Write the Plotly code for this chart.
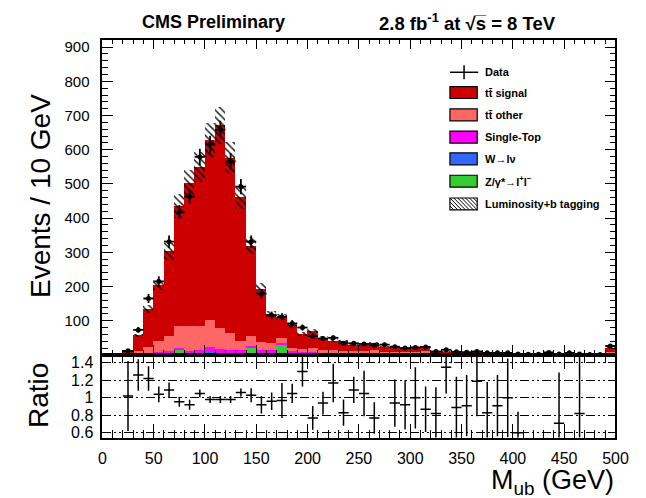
import numpy as np
import plotly.graph_objects as go

W, H = 646, 498

# ---------------- data (10 GeV bins, 0-500 GeV) ----------------
bin_edges = list(range(0, 510, 10))

tt_signal = [0, 0.3, 7, 46, 111, 164, 248, 353, 418, 466, 527, 592, 513, 421, 265, 157, 85, 62, 66, 43,
             51, 35.5, 28.5, 27.5, 19, 18.5, 21.5, 15.5, 16, 13.2, 13.3, 12.9, 6.4, 5.7, 4.7, 4.5, 4.2, 3.8, 3.7, 3.2,
             2.9, 2.6, 2.6, 2.3, 2.3, 2.1, 2.1, 2.0, 1.8, 11]
tt_other = [0, 0.3, 3, 9, 18, 33, 44, 63, 71, 69, 78, 63, 50, 28, 28, 23, 21, 14, 10, 9,
            10, 8, 7, 7, 6, 6, 8, 5, 5, 4, 4, 4, 3, 3, 2.5, 2.3, 2, 1.8, 1.8, 1.5,
            1.4, 1.3, 1.3, 1.2, 1.2, 1.0, 1.0, 1.0, 0.9, 5]
single_top = [0, 0.1, 1, 2, 3.5, 5, 6.5, 4, 8, 9, 15, 11, 9, 10, 5, 7, 10, 4, 6, 6,
              6, 5, 5, 4, 4, 4, 4, 3, 3, 3, 3, 3, 2, 1.5, 1.5, 1.3, 1.2, 1.1, 1.0, 0.9,
              0.8, 0.7, 0.7, 0.7, 0.7, 0.6, 0.6, 0.5, 0.5, 4]
w_jets = [0, 0, 0.2, 0.3, 0.5, 0.5, 0.5, 1, 1, 1, 1, 1, 1, 1, 1, 1, 1, 1, 1, 1,
          1, 0.5, 0.5, 0.5, 0.5, 0.5, 0.5, 0.5, 0.5, 0.5, 0.5, 0.5, 0.3, 0.3, 0.3, 0.2, 0.2, 0.2, 0.2, 0.1,
          0.1, 0.1, 0.1, 0.1, 0.1, 0.1, 0.1, 0.1, 0.1, 0.5]
z_jets = [0, 0.1, 0.5, 0.7, 2, 4.5, 5, 17, 5, 6, 8, 5, 5, 4, 22, 7, 4, 32, 5, 3,
          3, 2, 2, 2, 1.5, 1.5, 2, 1, 1, 1, 1, 6, 0.5, 0.5, 1, 0.5, 0.4, 0.3, 0.3, 0.3,
          0.3, 0.3, 0.3, 0.2, 0.2, 0.2, 0.2, 0.2, 0.2, 1.5]
data_counts = [None, None, 12, 73, 165, 215, 331, 418, 463, 579, 616, 659, 566, 492, 331, 179, 116, 111, 92, 80,
               55, 48, 50, 34, 34, 32, 28, 30, 24, 20, 22, 23, 10, 15, 9, 8, 10, 6, 6, 6,
               3, 2, 2, 7, 3, 6, 3, 1, 1, 26]
ratio_vals = [None, None, 1.02, 1.26, 1.22, 1.04, 1.09, 0.955, 0.92, 1.05, 0.98, 0.98, 0.98, 1.06, 1.03, 0.92, 0.96, 0.97, 1.05, 1.30,
              0.77, 0.94, 1.17, 0.83, 1.09, 1.05, 0.77, None, 0.94, 0.92, 1.0, 0.87, 0.82, 1.35, 0.89, 0.91, 1.19, 0.83, 0.91, 1.0,
              0.6, None, None, None, 0.71, None, 0.82, None, None, None]
ratio_errs = [0, 0, 0.4, 0.18, 0.14, 0.09, 0.085, 0.057, 0.057, 0.045, 0.04, 0.04, 0.04, 0.045, 0.08, 0.1, 0.1, 0.2, 0.11, 0.17,
              0.135, 0.13, 0.22, 0.15, 0.15, 0.26, 0.18, 0, 0.27, 0.28, 0.35, 0.26, 0.3, 0.3, 0.35, 0.35, 0.4, 0.35, 0.35, 0.45,
              0.24, 0, 0, 0, 0.58, 0, 0.7, 0, 0, 0]
syst_fraction = 0.08

x_tick_vals = [0, 50, 100, 150, 200, 250, 300, 350, 400, 450, 500]
y_tick_vals = [100, 200, 300, 400, 500, 600, 700, 800, 900]
ratio_tick_vals = [0.6, 0.8, 1.0, 1.2, 1.4]
ratio_tick_text = ["0.6", "0.8", "1", "1.2", "1.4"]

# ---------------- figure ----------------
edges = np.array(bin_edges, float)
centers = 0.5 * (edges[:-1] + edges[1:])
widths = np.diff(edges)

def px(x):
    return x / W

def py(y):
    return 1 - y / H

FONT = "Liberation Sans, Arial, sans-serif"
fig = go.Figure()

layers = [
    ("Z/γ*→l+l-", z_jets, "#33CC33"),
    ("W→lν", w_jets, "#3366FF"),
    ("Single-Top", single_top, "#FF00FF"),
    ("tt other", tt_other, "#FF6666"),
    ("tt signal", tt_signal, "#CC0000"),
]
stack = np.zeros(len(centers))
for name, vals, col in layers:
    v = np.array(vals, float)
    fig.add_trace(go.Bar(x=centers, y=v, base=stack.copy(), width=widths, name=name,
                         marker=dict(color=col, line=dict(width=0)),
                         xaxis="x", yaxis="y", showlegend=False))
    stack = stack + v
mc_total = stack

fig.add_trace(go.Bar(x=centers, y=2 * mc_total * syst_fraction, base=mc_total * (1 - syst_fraction),
                     width=widths, name="Luminosity+b tagging",
                     marker=dict(color="rgba(0,0,0,0)", line=dict(width=0),
                                 pattern=dict(shape="\\", fgcolor="black", bgcolor="rgba(0,0,0,0)",
                                              size=5, solidity=0.3, fgopacity=0.85)),
                     xaxis="x", yaxis="y", showlegend=False))

data_arr = np.array([np.nan if d is None else d for d in data_counts], float)
fig.add_trace(go.Scatter(x=centers, y=data_arr, mode="markers", name="Data",
                         marker=dict(color="black", size=5),
                         error_x=dict(type="data", array=widths / 2, color="black", thickness=1.8, width=0),
                         error_y=dict(type="data", array=np.sqrt(np.nan_to_num(data_arr)), color="black",
                                      thickness=1.8, width=0),
                         xaxis="x", yaxis="y", showlegend=False))

ratio_arr = np.array([np.nan if r is None else r for r in ratio_vals], float)
fig.add_trace(go.Scatter(x=centers, y=ratio_arr, mode="markers", name="Ratio",
                         marker=dict(color="black", size=1),
                         error_x=dict(type="data", array=widths / 2, color="black", thickness=1.5, width=0),
                         error_y=dict(type="data", array=ratio_errs, color="black", thickness=1.5, width=0),
                         xaxis="x2", yaxis="y2", showlegend=False))

x_dom = [px(101), px(628)]
axis_common = dict(showline=True, linecolor="black", linewidth=1.6, mirror="ticks",
                   ticks="inside", tickcolor="black", tickwidth=1.2, zeroline=False, showgrid=False)

fig.update_layout(
    width=W, height=H, autosize=False,
    margin=dict(l=0, r=0, t=0, b=0),
    paper_bgcolor="white", plot_bgcolor="white",
    barmode="overlay", bargap=0,
    font=dict(family=FONT, color="black"),
    xaxis=dict(domain=x_dom, anchor="y", range=[0, 500], tickvals=x_tick_vals, showticklabels=False,
               ticklen=10, minor=dict(dtick=10, tick0=0, ticklen=5, tickwidth=1, tickcolor="black", ticks="inside"),
               **axis_common),
    yaxis=dict(domain=[py(357.5), py(39)], anchor="x", range=[0, 922], tickvals=y_tick_vals,
               ticklen=11, tickfont=dict(size=15), ticklabelstandoff=8,
               minor=dict(dtick=20, tick0=0, ticklen=6, tickwidth=1, tickcolor="black", ticks="inside"),
               **axis_common),
    xaxis2=dict(domain=x_dom, anchor="y2", matches="x", range=[0, 500], tickvals=x_tick_vals,
                ticklen=14, tickfont=dict(size=16), ticklabelstandoff=5,
                minor=dict(dtick=10, tick0=0, ticklen=8, tickwidth=1, tickcolor="black", ticks="inside"),
                **axis_common),
    yaxis2=dict(domain=[py(441), py(357.5)], anchor="x2", range=[0.545, 1.49],
                tickvals=ratio_tick_vals, ticktext=ratio_tick_text, ticklen=5,
                tickfont=dict(size=16), ticklabelstandoff=4,
                showline=True, linecolor="black", linewidth=1.6, mirror="ticks",
                ticks="inside", tickcolor="black", tickwidth=1.2, zeroline=False,
                showgrid=True, gridcolor="black", gridwidth=1, griddash="9px,3px,2px,3px,2px,3px"),
)

annotations = [
    dict(text="<b>CMS Preliminary</b>", x=px(215), y=py(21), font=dict(size=18)),
    dict(text="<b>2.8 fb<sup>-1</sup> at √s\u0305 = 8 TeV</b>", x=px(476), y=py(21), font=dict(size=18.5)),
    dict(text="Events / 10 GeV", x=px(37), y=py(197), textangle=-90, font=dict(size=28)),
    dict(text="Ratio", x=px(36), y=py(399), textangle=-90, font=dict(size=28)),
    dict(text="M<sub>ub</sub> (GeV)", x=px(629), y=py(486), xanchor="right", font=dict(size=27)),
]
for a in annotations:
    a.setdefault("xanchor", "center")
    fig.add_annotation(xref="paper", yref="paper", yanchor="middle", showarrow=False, **a)

# ---------------- legend ----------------
shapes = []
bx0, bx1 = 458, 486
legend_rows = [
    ("Data", 72, None),
    ("tt\u0304 signal", 92.5, "#CC0000"),
    ("tt\u0304 other", 115, "#FF6666"),
    ("Single-Top", 137.5, "#FF00FF"),
    ("W→lν", 159.5, "#3366FF"),
    ("Z/γ*→l<sup>+</sup>l<sup>−</sup>", 182, "#33CC33"),
    ("Luminosity+b tagging", 205, "hatch"),
]
for label, yc, col in legend_rows:
    if col is None:
        shapes.append(dict(type="line", xref="paper", yref="paper", x0=px(bx0), x1=px(bx1 + 1),
                           y0=py(yc), y1=py(yc), line=dict(color="black", width=1.5)))
        shapes.append(dict(type="line", xref="paper", yref="paper", x0=px(472.5), x1=px(472.5),
                           y0=py(yc - 7), y1=py(yc + 7), line=dict(color="black", width=1.5)))
    elif col == "hatch":
        top, bot = yc - 6, yc + 6
        h = bot - top
        for x0 in np.arange(bx0 - h, bx1, 4):
            t0 = max(0, bx0 - x0)
            t1 = min(h, bx1 - x0)
            if t1 > t0:
                shapes.append(dict(type="line", xref="paper", yref="paper",
                                   x0=px(x0 + t0), y0=py(top + t0), x1=px(x0 + t1), y1=py(top + t1),
                                   line=dict(color="black", width=1)))
        shapes.append(dict(type="rect", xref="paper", yref="paper", x0=px(bx0), x1=px(bx1),
                           y0=py(bot), y1=py(top), line=dict(color="black", width=1.2),
                           fillcolor="rgba(0,0,0,0)"))
    else:
        shapes.append(dict(type="rect", xref="paper", yref="paper", x0=px(bx0), x1=px(bx1),
                           y0=py(yc + 6), y1=py(yc - 6), line=dict(color="black", width=1.2),
                           fillcolor=col))
    fig.add_annotation(xref="paper", yref="paper", x=px(492), y=py(yc), xanchor="left", yanchor="middle",
                       text="<b>" + label + "</b>", showarrow=False, font=dict(size=11))

fig.update_layout(shapes=shapes)
fig.write_html("out.html")
